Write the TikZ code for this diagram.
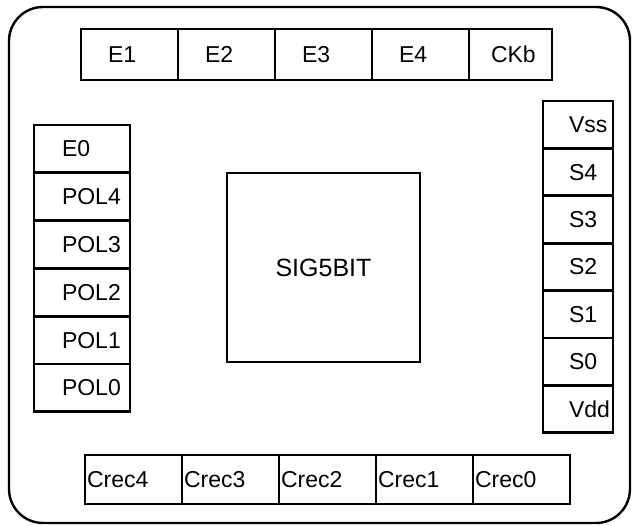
\documentclass[tikz,border=0pt]{standalone}
\usepackage{fontspec}
\setmainfont{Liberation Sans}
\usetikzlibrary{positioning}
\tikzstyle{frame}=[draw,line width=2.4pt,rounded corners=34pt,inner sep=0pt,outer sep=0pt]
\tikzstyle{core}=[draw,line width=2.8pt,inner sep=0pt,outer sep=0pt,font=\fontsize{25}{29}\selectfont]
\tikzstyle{pad}=[draw,line width=2.8pt,outer sep=0pt,inner ysep=0pt,align=left,font=\fontsize{23}{27}\selectfont]
\tikzstyle{pad top}=[pad,minimum height=51pt,text width=43pt,inner xsep=27pt]
\tikzstyle{pad bot}=[pad,minimum height=49pt,text width=93pt,inner xsep=2pt]
\tikzstyle{pad left}=[pad,minimum height=47.8pt,text width=40pt,inner xsep=28pt]
\tikzstyle{pad right}=[pad,minimum height=47.4pt,text width=18pt,inner xsep=26pt]

\begin{document}
\begin{tikzpicture}[x=1pt,y=-1pt]
  \useasboundingbox (0,0) rectangle (633,526);
  \node[frame,minimum width=621pt,minimum height=516pt] (chip) at (319.5,265) {};
  \node[core,minimum width=193pt,minimum height=189pt] (core) at (323.5,267.5) {SIG5BIT};

  % top pads
  \foreach \t [count=\i] in {E1,E2,E3,E4}
    \node[pad top,anchor=north west] (top\i) at ({81+97*(\i-1)},29) {\t};
  \node[pad top,text width=39pt,inner xsep=22pt,right=0pt of top4] (ckb) {CKb};

  % left pads
  \foreach \t [count=\i] in {E0,POL4,POL3,POL2,POL1,POL0}
    \node[pad left,anchor=north west] (left\i) at (34,{125+47.8*(\i-1)}) {\t};

  % right pads
  \foreach \t [count=\i] in {Vss,S4,S3,S2,S1,S0,Vdd}
    \node[pad right,anchor=north west] (right\i) at (543,{101+47.4*(\i-1)}) {\t};

  % bottom pads
  \foreach \t [count=\i] in {Crec4,Crec3,Crec2,Crec1,Crec0}
    \node[pad bot,anchor=north west] (bot\i) at ({85+97*(\i-1)},455) {\t};
\end{tikzpicture}
\end{document}
